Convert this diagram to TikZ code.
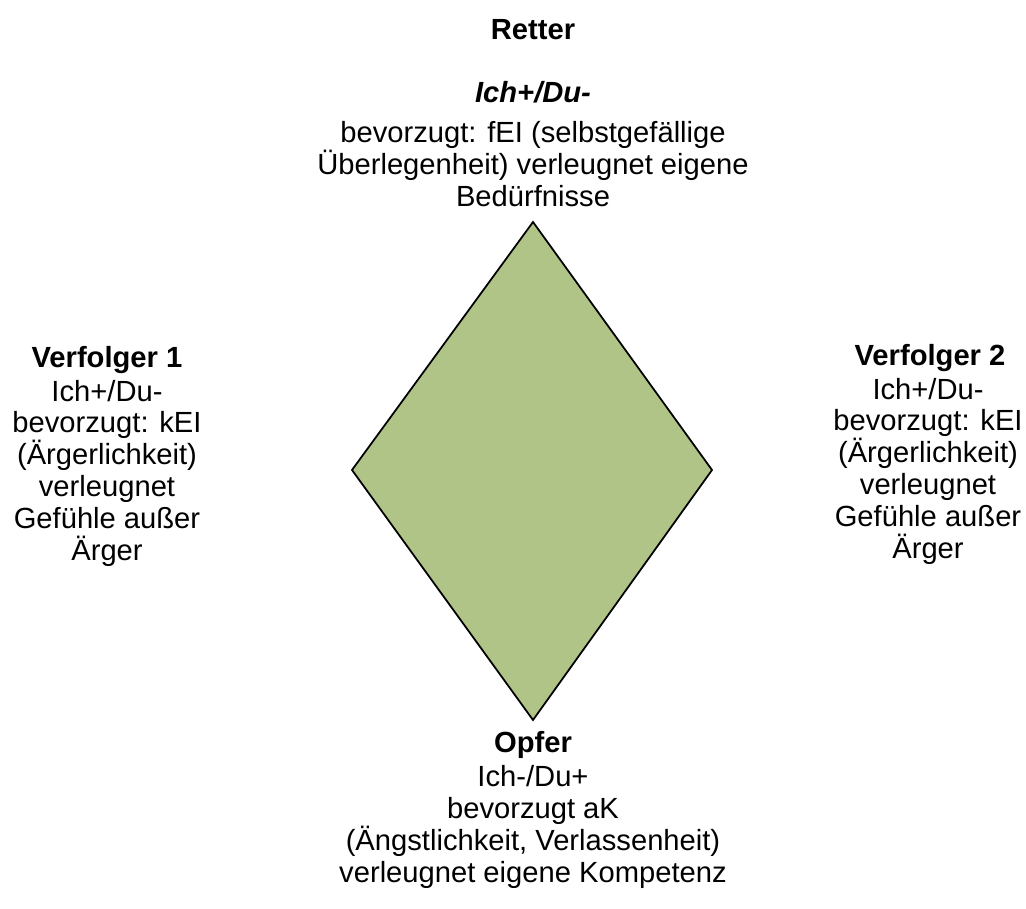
\documentclass[tikz,border=0pt]{standalone}
\usepackage{fontspec}
\setmainfont{Liberation Sans}
\definecolor{rautegruen}{RGB}{176,196,136}

\begin{document}
\begin{tikzpicture} [x=0.02cm, y=-0.02cm,
                every node/.style={inner sep=0pt, align=center, font=\fontsize{16.6}{18.1}\selectfont},
                head_style/.style={font=\fontsize{16.6}{18.1}\selectfont\bfseries}]
                \tikzset{raute/.style={draw=black, line width=1pt, fill=rautegruen, line join=miter}}
                \useasboundingbox (0,0) rectangle (1026,908);
                \coordinate (top) at (533,222);
                \coordinate (left) at (352,470);
                \coordinate (right) at (712,470);
                \coordinate (bottom) at (533,720);
                \draw [raute] (top) -- (right) -- (bottom) -- (left) -- cycle;
                \node [head_style] (retter) at (533,30) {Retter};
                \node [head_style, font=\fontsize{16.6}{18.1}\selectfont\bfseries\itshape] (retterpos) at (533,92) {Ich+/Du-};
                \node (rettertext) at (533,164) {bevorzugt: fEI (selbstgefällige\\ Überlegenheit) verleugnet eigene\\ Bedürfnisse};
                \node [head_style] (verf1) at (107,360) {Verfolger 1};
                \node (verf1text) at (107,473) {Ich+/Du-\\ bevorzugt: kEI\\ (Ärgerlichkeit)\\ verleugnet\\ Gefühle außer\\ Ärger};
                \node [head_style] (verf2) at (930,358) {Verfolger 2};
                \node (verf2text) at (928,471) {Ich+/Du-\\ bevorzugt: kEI\\ (Ärgerlichkeit)\\ verleugnet\\ Gefühle außer\\ Ärger};
                \node [head_style] (opfer) at (533,745) {Opfer};
                \node (opfertext) at (533,827) {Ich-/Du+\\ bevorzugt aK\\ (Ängstlichkeit, Verlassenheit)\\ verleugnet eigene Kompetenz};
            \end{tikzpicture}
\end{document}
